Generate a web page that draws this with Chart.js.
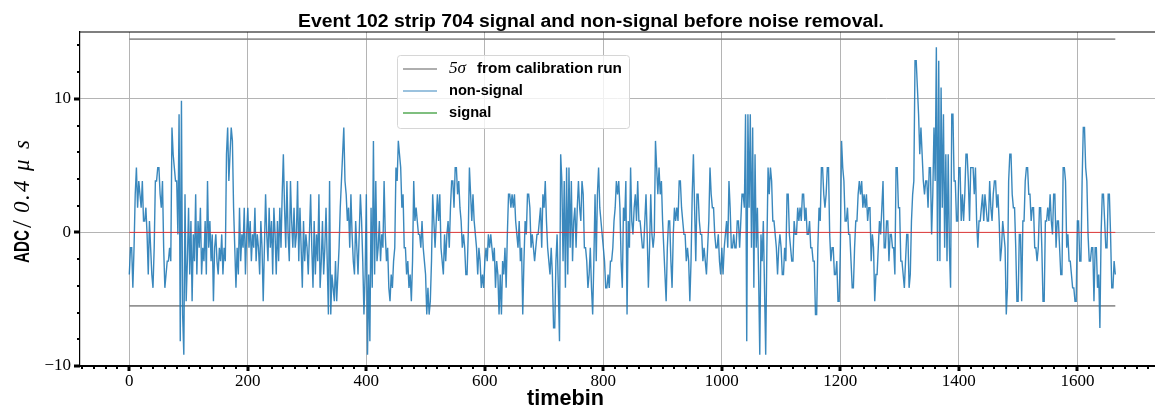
<!DOCTYPE html>
<html>
<head>
<meta charset="utf-8">
<script src="https://cdn.jsdelivr.net/npm/chart.js@4/dist/chart.umd.min.js"></script>
<style>
  html, body { margin: 0; padding: 0; background: #fff; overflow: hidden; }
  #wrap { width: 1155px; height: 409px; }
</style>
</head>
<body>
<div id="wrap"><canvas id="stripChart" width="1155" height="409"></canvas></div>
<script>
// raw ADC counts, one every 2 timebins, pedestal removed below
const timebinStep = 2;
const pedestalOffset = -0.15;
const adcCounts = [
  -3,-1,-1,-4,-1,3,5,2,4,3,  2,4,1,1,2,0,-3,1,-1,-3,  -4,-1,4,4,5,5,3,2,4,-1,  -4,-3,-2,-2,-1,-2,8,6,5,4,
  4,0,9,-8,10,-6,-9,3,-5,-2,  2,-3,1,-5,0,-2,3,-3,1,-1,  2,-3,-1,-2,1,-3,4,-1,1,-2,  0,-5,-1,0,-2,-3,-1,-2,0,-3,
  -1,-2,6,8,4,6,8,7,2,-1,  -4,-1,-3,2,-2,0,-1,2,-3,0,  2,-1,1,-2,0,-1,2,-2,0,-1,  -3,1,-1,-5,-1,3,0,-2,2,-1,
  1,-3,2,0,-3,1,-2,2,-1,3,  6,2,-1,4,0,-2,4,1,-1,2,  -1,0,4,-2,2,-1,-4,1,-2,0,  -1,-3,0,3,-1,-4,1,-3,0,-2,
  3,-4,-2,1,-3,-1,2,-2,-6,4,  -6,-3,-4,-5,-2,-5,-3,-1,2,4,  6,8,4,3,1,2,-1,3,0,-2,  -3,1,-1,-3,0,3,1,-2,-6,-3,
  3,-9,-3,-8,2,-4,7,-3,4,-2,  -1,1,-2,0,-1,4,0,-2,-1,-4,  -5,-3,-4,-2,-1,5,4,7,6,5,  2,3,-1,-1,-3,-2,-4,-3,-5,-2,
  4,1,2,1,0,0,-1,1,-1,-2,  -3,-6,-4,-6,-5,-2,3,1,-1,1,  3,1,3,-1,-2,-3,0,-2,0,1,  -1,2,4,4,2,5,5,3,4,2,
  1,-1,0,-1,-3,-3,0,5,3,1,  3,1,0,-1,-3,-1,-2,-4,-3,-4,  -2,-1,-2,0,-1,0,-1,-2,-1,-4,  -2,-3,-6,-3,-6,-2,-3,-1,-4,0,
  3,3,2,3,2,3,1,0,-1,1,  -2,-1,-6,-2,1,0,3,3,2,-1,  0,-1,-2,-1,0,0,1,2,-1,3,  2,4,1,-1,-2,-3,-1,-3,-7,-7,
  -2,0,-4,-8,6,4,-2,4,-4,5,  -3,5,-1,4,-2,1,2,-1,2,4,  2,1,4,3,-1,-1,-2,-4,-3,-1,  -4,-6,-2,3,-2,3,5,2,1,0,
  -1,-2,-4,-4,-3,-4,-2,-2,-1,1,  2,4,3,4,2,-2,-4,2,1,4,  -6,1,-1,5,1,0,2,3,1,4,  1,1,0,-1,-1,1,3,0,-4,-1,
  3,0,-1,0,7,5,3,5,3,4,  1,-1,-3,-5,-1,1,1,-2,-4,0,  2,1,2,1,4,4,2,1,0,0,  -2,-1,-2,-5,-2,3,6,2,-2,3,
  3,1,0,0,-2,-1,-2,-3,-1,1,  5,3,2,2,0,-1,-1,0,-2,-3,  -1,-3,-1,0,1,-1,4,2,-1,-1,  0,-1,-1,1,1,-1,1,3,3,2,
  9,-8,9,2,9,-1,8,-4,6,-1,  2,-3,-9,0,-2,1,-4,-9,-1,5,  3,5,4,1,1,0,-1,-3,-1,0,  -1,-3,-3,-1,-2,3,3,0,-1,-2,
  -2,1,0,0,2,1,2,1,3,3,  1,2,0,0,1,-1,-1,-2,-2,-6,  -6,-1,2,1,5,5,3,2,3,5,  5,0,-2,-1,-1,-3,-3,-2,-5,-5,
  -1,7,5,4,1,1,2,0,0,-2,  -4,-4,-1,1,1,3,4,3,4,2,  3,2,3,1,2,2,-2,0,-1,-5,  -3,-3,-1,1,0,2,4,-1,-1,1,
  1,-2,0,0,-1,-1,-3,5,5,2,  2,-2,-2,-3,-4,-2,0,0,-4,-3,  1,3,4,13,13,11,9,6,8,6,  4,3,4,4,2,5,5,0,3,8,
  4,14,-2,13,-2,11,2,9,-1,6,  -2,6,-1,-4,9,9,4,4,1,1,  5,5,1,3,1,3,6,6,4,1,  5,5,5,3,5,1,-1,1,1,2,
  3,1,3,2,1,1,4,2,1,3,  4,4,2,3,1,-2,-1,1,0,-1,  -6,-4,4,6,6,3,2,2,-1,-5,  -5,0,0,-5,1,1,4,5,5,3,
  3,1,2,2,-1,-1,-2,-1,2,2,  -1,-5,-5,1,1,2,1,3,1,0,  3,3,-1,1,1,-1,-3,-3,5,5,  4,-1,0,-2,-2,-3,-4,-4,-5,-5,
  1,1,-2,-2,4,8,8,5,4,0,  -2,-2,-1,-1,-5,-1,-1,-4,-3,-7,  0,3,3,1,-1,-1,3,3,0,-4,  -4,-2,-3
];
const signalCounts = [];            // no signal bins in this event
const upperThreshold = 14.47;      // 5 sigma band from calibration run
const lowerThreshold = -5.5;
const firstTimebin = 0;
const lastTimebin = 1664;
const xTickValues = [0, 200, 400, 600, 800, 1000, 1200, 1400, 1600];
const yTickValues = [-10, 0, 10];

const nonSignal = adcCounts.map((c, i) => ({ x: i * timebinStep, y: c + pedestalOffset }));
const signal = signalCounts.map((c, i) => ({ x: i * timebinStep, y: c + pedestalOffset }));
const hline = v => [{ x: firstTimebin, y: v }, { x: lastTimebin, y: v }];

const sans = '"Liberation Sans"';
const serif = '"Liberation Serif"';

function fitSize(ctx, text, weight, family, width) {
  ctx.font = weight + ' 100px ' + family;
  return 100 * width / ctx.measureText(text).width;
}

// draw text squeezed/stretched to an exact width
function drawToWidth(ctx, text, font, x, y, width) {
  ctx.font = font;
  const w = ctx.measureText(text).width;
  ctx.save();
  ctx.translate(x, y);
  ctx.scale(width / w, 1);
  ctx.fillText(text, 0, 0);
  ctx.restore();
}

const frameAndText = {
  id: 'frameAndText',
  afterDraw(chart) {
    const { ctx, chartArea: a, scales: { x, y } } = chart;
    ctx.save();
    ctx.fillStyle = '#000';
    ctx.fillRect(a.left, a.top - 0.5, a.right - a.left, 1);
    for (let v = Math.ceil(x.min / 20) * 20; v <= x.max; v += 20) {
      const px = Math.round(x.getPixelForValue(v));
      const major = v % 200 === 0;
      ctx.fillRect(px - (major ? 1.5 : 1), a.bottom, major ? 3 : 2, major ? 5 : 3);
    }
    for (let v = -10; v < 15; v += 2) {
      const py = Math.round(y.getPixelForValue(v));
      const major = v % 10 === 0;
      const len = major ? 6 : 3;
      ctx.fillRect(a.left - len, py - (major ? 1.5 : 1), len, major ? 3 : 2);
    }

    ctx.textAlign = 'left';
    ctx.textBaseline = 'alphabetic';
    drawToWidth(ctx, 'Event 102 strip 704 signal and non-signal before noise removal.',
      'bold 18px ' + sans, 298, 27, 586);
    drawToWidth(ctx, 'timebin', 'bold 22px ' + sans, 527, 405, 77);

    // y label, rotated, reads bottom to top
    ctx.translate(29, 263);
    ctx.rotate(-Math.PI / 2);
    drawToWidth(ctx, 'ADC', 'bold 22px ' + sans, 0, 0, 33);
    ctx.font = '28px ' + serif;
    ctx.fillText('/', 35, 2);
    ctx.font = 'italic 23px ' + serif;
    [['0', 50], ['.', 63], ['4', 71], ['\u03bc', 92], ['s', 114]].forEach(([g, off]) => ctx.fillText(g, off, 0));
    ctx.restore();
  },
  afterDatasetsDraw(chart) {
    const ctx = chart.ctx;
    const entries = chart.data.datasets.filter(d => d.inLegend);
    ctx.save();
    ctx.beginPath();
    ctx.roundRect(397.5, 55.5, 232, 73, 3);
    ctx.fillStyle = 'rgba(255,255,255,0.8)';
    ctx.fill();
    ctx.strokeStyle = '#d6d6d6';
    ctx.lineWidth = 1;
    ctx.stroke();
    const size = fitSize(ctx, 'non-signal', 'bold', sans, 74);
    entries.forEach((d, i) => {
      const yy = 69 + i * 22;
      ctx.beginPath();
      ctx.moveTo(403, yy);
      ctx.lineTo(437, yy);
      ctx.strokeStyle = d.legendColor || d.borderColor;
      ctx.lineWidth = d.borderWidth;
      ctx.stroke();
      ctx.fillStyle = '#000';
      ctx.textBaseline = 'middle';
      const m = d.label.match(/^(\S*\u03c3)\s+(.*)$/);
      if (m) {
        drawToWidth(ctx, m[1], 'italic ' + (size + 2) + 'px ' + serif, 449, yy, 17);
        drawToWidth(ctx, m[2], 'bold ' + size + 'px ' + sans, 477, yy, 145);
      } else {
        ctx.font = 'bold ' + size + 'px ' + sans;
        ctx.fillText(d.label, 449, yy);
      }
    });
    ctx.restore();
  }
};

const grayLine = 'rgba(128,128,128,0.85)';

new Chart(document.getElementById('stripChart'), {
  type: 'line',
  data: {
    datasets: [
      { label: 'zero', data: hline(0), borderColor: 'rgba(235,40,40,0.85)', borderWidth: 1, order: 0 },
      { label: '5\u03c3 from calibration run', data: hline(upperThreshold), borderColor: grayLine, borderWidth: 1.6, order: 3, inLegend: true },
      { label: 'non-signal', data: nonSignal, borderColor: 'rgba(31,119,180,0.88)', legendColor: 'rgba(31,119,180,0.6)', borderWidth: 1.4, order: 1, inLegend: true },
      { label: 'signal', data: signal, borderColor: 'green', borderWidth: 1.2, order: 2, inLegend: true },
      { label: '5\u03c3 lower', data: hline(lowerThreshold), borderColor: grayLine, borderWidth: 1.6, order: 3 }
    ]
  },
  options: {
    responsive: false,
    animation: false,
    events: [],
    layout: { padding: { top: 32, left: 0, right: 0, bottom: 0 } },
    elements: { point: { radius: 0 }, line: { tension: 0, fill: false } },
    plugins: { legend: { display: false }, tooltip: { enabled: false }, title: { display: false } },
    scales: {
      x: {
        type: 'linear',
        min: -83.2,
        max: 1731,
        afterFit: s => { s.height = 43; },
        afterBuildTicks: s => { s.ticks = xTickValues.map(v => ({ value: v })); },
        ticks: {
          color: '#000', padding: 5, autoSkip: false, maxRotation: 0,
          font: { family: 'Liberation Serif', size: 17 },
          callback: v => String(v)
        },
        grid: { color: '#b4b4b4', lineWidth: 1, drawTicks: false },
        border: { color: '#000', width: 2 }
      },
      y: {
        min: -10,
        max: 15,
        afterFit: s => { s.width = 80; },
        afterBuildTicks: s => { s.ticks = yTickValues.map(v => ({ value: v })); },
        ticks: {
          color: '#000', padding: 9,
          font: { family: 'Liberation Serif', size: 17 },
          callback: v => v < 0 ? '\u2212' + Math.abs(v) : String(v)
        },
        grid: { color: '#b4b4b4', lineWidth: 1, drawTicks: false },
        border: { color: '#000', width: 1.2 }
      }
    }
  },
  plugins: [frameAndText]
});
</script>
</body>
</html>
